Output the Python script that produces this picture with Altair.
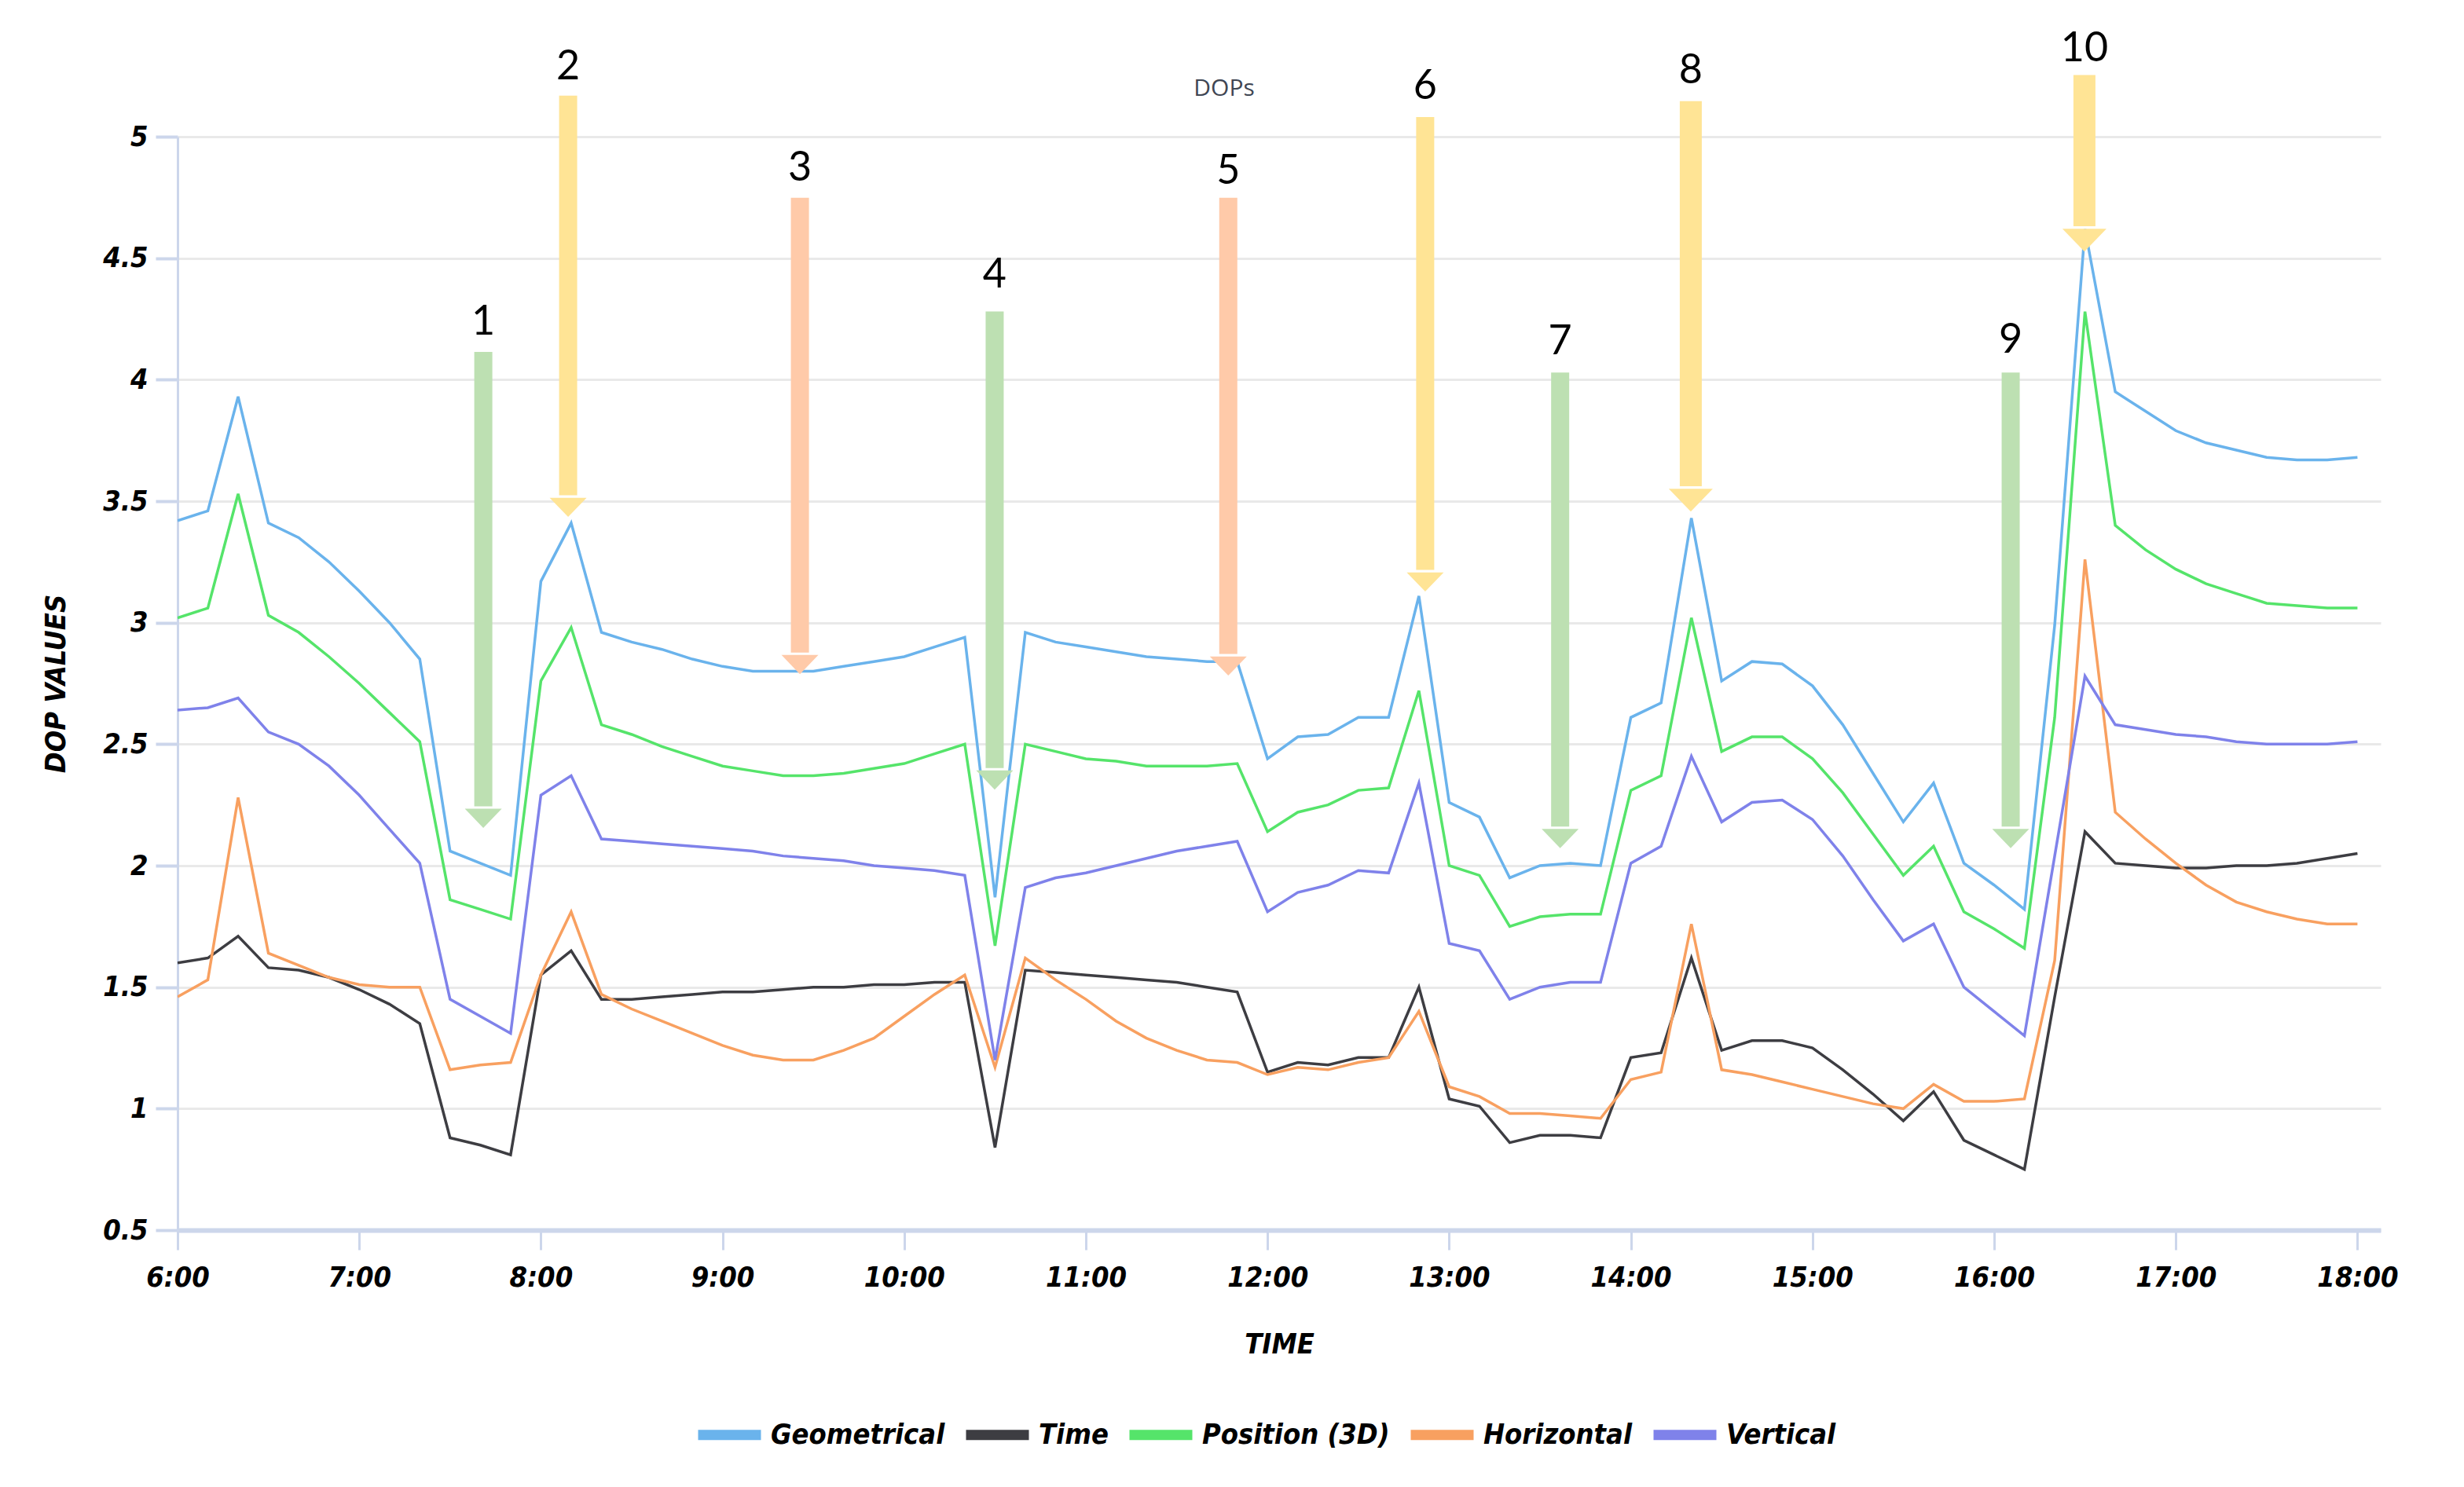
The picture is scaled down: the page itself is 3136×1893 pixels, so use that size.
import altair as alt
import pandas as pd

# ---------------- data ----------------
# samples every 10 minutes from 6:00 to 18:00
times = [f"{6 + i // 6}:{(i % 6) * 10:02d}" for i in range(73)]

series_names = ["Geometrical", "Time", "Position (3D)", "Horizontal", "Vertical"]

geometrical = [
    3.42, 3.46, 3.93, 3.41, 3.35, 3.25,
    3.13, 3.00, 2.85, 2.06, 2.01, 1.96,
    3.17, 3.41, 2.96, 2.92, 2.89, 2.85,
    2.82, 2.80, 2.80, 2.80, 2.82, 2.84,
    2.86, 2.90, 2.94, 1.87, 2.96, 2.92,
    2.90, 2.88, 2.86, 2.85, 2.84, 2.84,
    2.44, 2.53, 2.54, 2.61, 2.61, 3.11,
    2.26, 2.20, 1.95, 2.00, 2.01, 2.00,
    2.61, 2.67, 3.43, 2.76, 2.84, 2.83,
    2.74, 2.58, 2.38, 2.18, 2.34, 2.01,
    1.92, 1.82, 2.99, 4.62, 3.95, 3.87,
    3.79, 3.74, 3.71, 3.68, 3.67, 3.67,
    3.68,
]
time_dop = [
    1.60, 1.62, 1.71, 1.58, 1.57, 1.54,
    1.49, 1.43, 1.35, 0.88, 0.85, 0.81,
    1.55, 1.65, 1.45, 1.45, 1.46, 1.47,
    1.48, 1.48, 1.49, 1.50, 1.50, 1.51,
    1.51, 1.52, 1.52, 0.84, 1.57, 1.56,
    1.55, 1.54, 1.53, 1.52, 1.50, 1.48,
    1.15, 1.19, 1.18, 1.21, 1.21, 1.50,
    1.04, 1.01, 0.86, 0.89, 0.89, 0.88,
    1.21, 1.23, 1.62, 1.24, 1.28, 1.28,
    1.25, 1.16, 1.06, 0.95, 1.07, 0.87,
    0.81, 0.75, 1.46, 2.14, 2.01, 2.00,
    1.99, 1.99, 2.00, 2.00, 2.01, 2.03,
    2.05,
]
position_3d = [
    3.02, 3.06, 3.53, 3.03, 2.96, 2.86,
    2.75, 2.63, 2.51, 1.86, 1.82, 1.78,
    2.76, 2.98, 2.58, 2.54, 2.49, 2.45,
    2.41, 2.39, 2.37, 2.37, 2.38, 2.40,
    2.42, 2.46, 2.50, 1.67, 2.50, 2.47,
    2.44, 2.43, 2.41, 2.41, 2.41, 2.42,
    2.14, 2.22, 2.25, 2.31, 2.32, 2.72,
    2.00, 1.96, 1.75, 1.79, 1.80, 1.80,
    2.31, 2.37, 3.02, 2.47, 2.53, 2.53,
    2.44, 2.30, 2.13, 1.96, 2.08, 1.81,
    1.74, 1.66, 2.61, 4.28, 3.40, 3.30,
    3.22, 3.16, 3.12, 3.08, 3.07, 3.06,
    3.06,
]
horizontal = [
    1.46, 1.53, 2.28, 1.64, 1.59, 1.54,
    1.51, 1.50, 1.50, 1.16, 1.18, 1.19,
    1.55, 1.81, 1.47, 1.41, 1.36, 1.31,
    1.26, 1.22, 1.20, 1.20, 1.24, 1.29,
    1.38, 1.47, 1.55, 1.17, 1.62, 1.53,
    1.45, 1.36, 1.29, 1.24, 1.20, 1.19,
    1.14, 1.17, 1.16, 1.19, 1.21, 1.40,
    1.09, 1.05, 0.98, 0.98, 0.97, 0.96,
    1.12, 1.15, 1.76, 1.16, 1.14, 1.11,
    1.08, 1.05, 1.02, 1.00, 1.10, 1.03,
    1.03, 1.04, 1.61, 3.26, 2.22, 2.11,
    2.01, 1.92, 1.85, 1.81, 1.78, 1.76,
    1.76,
]
vertical = [
    2.64, 2.65, 2.69, 2.55, 2.50, 2.41,
    2.29, 2.15, 2.01, 1.45, 1.38, 1.31,
    2.29, 2.37, 2.11, 2.10, 2.09, 2.08,
    2.07, 2.06, 2.04, 2.03, 2.02, 2.00,
    1.99, 1.98, 1.96, 1.20, 1.91, 1.95,
    1.97, 2.00, 2.03, 2.06, 2.08, 2.10,
    1.81, 1.89, 1.92, 1.98, 1.97, 2.34,
    1.68, 1.65, 1.45, 1.50, 1.52, 1.52,
    2.01, 2.08, 2.45, 2.18, 2.26, 2.27,
    2.19, 2.04, 1.86, 1.69, 1.76, 1.50,
    1.40, 1.30, 2.04, 2.78, 2.58, 2.56,
    2.54, 2.53, 2.51, 2.50, 2.50, 2.50,
    2.51,
]

x_tick_hours = list(range(6, 19))
x_tick_labels = [f"{h}:00" for h in x_tick_hours]
y_tick_values = [0.5, 1, 1.5, 2, 2.5, 3, 3.5, 4, 4.5, 5]

# annotation arrows: label, time (hours), shaft top, tip value, label value, group
arrow_labels = ["1", "2", "3", "4", "5", "6", "7", "8", "9", "10"]
arrow_hours = [7.683, 8.150, 9.426, 10.498, 11.784, 12.868, 13.611, 14.330, 16.091, 16.497]
arrow_tops = [4.114, 5.169, 4.749, 4.281, 4.749, 5.081, 4.029, 5.146, 4.029, 5.254]
arrow_tips = [2.155, 3.435, 2.788, 2.313, 2.782, 3.128, 2.072, 3.457, 2.072, 4.527]
arrow_label_vals = [4.236, 5.287, 4.870, 4.430, 4.857, 5.208, 4.155, 5.273, 4.162, 5.361]
arrow_kind = ["green", "yellow", "salmon", "green", "salmon",
              "yellow", "green", "yellow", "green", "yellow"]

# ---------------- styles ----------------
line_colors = ["#6ab3ec", "#3d3d42", "#55e46a", "#f8a060", "#7f82ea"]
arrow_colors = {"green": "#bde0b2", "yellow": "#ffe495", "salmon": "#ffcaa9"}
label_font = "Liberation Sans Narrow, DejaVu Sans Condensed, Roboto, sans-serif"
axis_color = "#ccd6eb"

PLOT_W, PLOT_H = 2804, 1392
X_DOMAIN = [6, 18.128]
Y_DOMAIN = [0.5, 5]

# ---------------- tables ----------------
hours = [6 + i / 6 for i in range(len(times))]
values = {
    "Geometrical": geometrical,
    "Time": time_dop,
    "Position (3D)": position_3d,
    "Horizontal": horizontal,
    "Vertical": vertical,
}
rows = []
for name in series_names:
    vals = values[name]
    assert len(vals) == len(times), name
    for t, h, v in zip(times, hours, vals):
        rows.append({"time": t, "hour": h, "series": name, "dop": v})
df = pd.DataFrame(rows)

big = {"8", "10"}
arr = pd.DataFrame({
    "label": arrow_labels,
    "hour": arrow_hours,
    "top": arrow_tops,
    "tip": arrow_tips,
    "label_y": arrow_label_vals,
    "color": [arrow_colors[k] for k in arrow_kind],
})
head_w = [56 if l in big else 47 for l in arrow_labels]
shaft_w = [28 if l in big else 23 for l in arrow_labels]
px_per_unit = PLOT_H / (Y_DOMAIN[1] - Y_DOMAIN[0])
arr["base"] = [tp + 0.52 * hw / px_per_unit + 0.01 for tp, hw in zip(arrow_tips, head_w)]
arr["head_size"] = [w * w for w in head_w]
arr["shaft_w"] = shaft_w

xscale = alt.Scale(domain=X_DOMAIN, nice=False, zero=False)
yscale = alt.Scale(domain=Y_DOMAIN, nice=False, zero=False)

x_axis = alt.Axis(
    values=x_tick_hours,
    labelExpr=f"{x_tick_labels}[round(datum.value) - 6]",
    title="TIME",
    grid=False, labelFlush=False,
    domainColor=axis_color, domainWidth=6,
    tickColor=axis_color, tickSize=25, tickWidth=3,
    labelPadding=18, labelFontSize=36, labelFont=label_font,
    labelFontWeight="bold", labelFontStyle="italic", labelColor="#000000",
    titleFontSize=36, titleFont=label_font, titleFontWeight="bold",
    titleFontStyle="italic", titleColor="#000000", titlePadding=50,
)
y_axis = alt.Axis(
    values=y_tick_values,
    format=".2~f",
    title="DOP VALUES",
    grid=True, gridColor="#e9e9e9", gridWidth=3, labelFlush=False,
    domainColor=axis_color, domainWidth=3,
    tickColor=axis_color, tickSize=28, tickWidth=4,
    labelPadding=10, labelFontSize=36, labelFont=label_font,
    labelFontWeight="bold", labelFontStyle="italic", labelColor="#000000",
    titleFontSize=36, titleFont=label_font, titleFontWeight="bold",
    titleFontStyle="italic", titleColor="#000000", titlePadding=40,
)

X = lambda f: alt.X(f, scale=xscale, axis=x_axis, title="TIME")
Y = lambda f: alt.Y(f, scale=yscale, axis=y_axis, title="DOP VALUES")

lines = alt.Chart(df).mark_line(strokeWidth=3.5, clip=True).encode(
    x=X("hour:Q"),
    y=Y("dop:Q"),
    color=alt.Color(
        "series:N",
        scale=alt.Scale(domain=series_names, range=line_colors),
        sort=series_names,
        legend=alt.Legend(
            title=None, orient="none", direction="horizontal",
            legendX=656, legendY=1606,
            symbolType="stroke", symbolStrokeWidth=13, symbolSize=6400,
            labelFont=label_font, labelFontSize=36, labelFontWeight="bold",
            labelFontStyle="italic", labelColor="#000000", labelLimit=2000,
            labelOffset=6, columnPadding=0, symbolOpacity=1,
        ),
    ),
    order=alt.Order("hour:Q"),
)

shafts = alt.Chart(arr).mark_rule(strokeCap="butt", clip=False).encode(
    x=X("hour:Q"),
    y=Y("top:Q"),
    y2="base:Q",
    color=alt.Color("color:N", scale=None, legend=None),
    strokeWidth=alt.StrokeWidth("shaft_w:Q", scale=None, legend=None),
)

heads = alt.Chart(arr).mark_point(
    shape="M-1,-1.04L1,-1.04L0,0Z", filled=True, opacity=1, strokeWidth=0, clip=False
).encode(
    x=X("hour:Q"),
    y=Y("tip:Q"),
    fill=alt.Fill("color:N", scale=None, legend=None),
    size=alt.Size("head_size:Q", scale=None, legend=None),
)

labels = alt.Chart(arr).mark_text(
    font="Lato, Open Sans, sans-serif", fontSize=52, color="#000000",
    baseline="middle", align="center", clip=False
).encode(
    x=X("hour:Q"),
    y=Y("label_y:Q"),
    text="label:N",
)

chart = alt.layer(lines, shafts, heads, labels).properties(
    width=PLOT_W,
    height=PLOT_H,
    autosize=alt.AutoSizeParams(type="none"),
    padding={"left": 218, "top": 166, "right": 98, "bottom": 319},
    background="#ffffff",
    title=alt.TitleParams(
        "DOPs", font="Open Sans", fontSize=30, fontWeight="normal",
        color="#3f4653", anchor="middle", frame="group", dx=-70, offset=-92,
    ),
).configure_view(stroke=None)

chart.save("out.html", embed_options={"renderer": "svg", "actions": False})
